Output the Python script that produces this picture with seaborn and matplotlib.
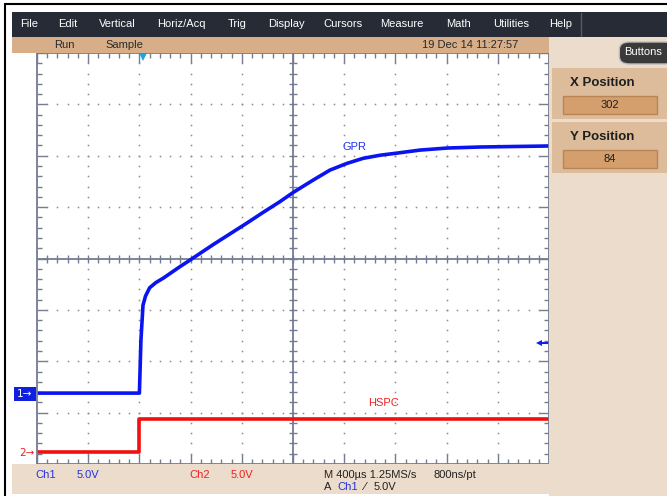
import numpy as np
import pandas as pd
import matplotlib
matplotlib.use("Agg")
import matplotlib.pyplot as plt
import seaborn as sns
from matplotlib.patches import Rectangle, FancyBboxPatch

# trace readings, in screen divisions (10 x 8 graticule)
gpr_t = [0.0, 2.0, 2.03, 2.07, 2.12, 2.20, 2.32, 2.47, 2.79, 2.99, 3.44, 3.77, 4.10,
         4.42, 4.75, 5.01, 5.40, 5.72, 6.05, 6.37, 6.70, 7.02, 7.48, 8.01, 8.65, 10.0]
gpr_v = [1.38, 1.38, 2.41, 3.09, 3.27, 3.43, 3.53, 3.62, 3.84, 3.97, 4.27, 4.48, 4.69,
         4.90, 5.11, 5.29, 5.53, 5.72, 5.85, 5.95, 6.01, 6.05, 6.11, 6.15, 6.17, 6.19]
hspc_t = [0.0, 2.0, 2.0, 10.0]
hspc_v = [0.24, 0.24, 0.87, 0.87]

menu_items = ["File", "Edit", "Vertical", "Horiz/Acq", "Trig", "Display",
              "Cursors", "Measure", "Math", "Utilities", "Help"]
menu_x = [29, 68, 117, 181, 237, 286, 343, 402, 459, 511, 561]

df = pd.concat([
    pd.DataFrame({"t": gpr_t, "v": gpr_v, "trace": "GPR"}),
    pd.DataFrame({"t": hspc_t, "v": hspc_v, "trace": "HSPC"}),
], ignore_index=True)

sns.set_theme(style="white")
plt.rcParams['font.family'] = ['Liberation Sans Narrow', 'Liberation Sans', 'DejaVu Sans']

W, H = 667, 496
fig = plt.figure(figsize=(W / 100, H / 100), dpi=100)
fig.patch.set_facecolor("white")


def box(x0, y0, x1, y1, **kw):
    fig.add_artist(Rectangle((x0 / W, 1 - y1 / H), (x1 - x0) / W, (y1 - y0) / H,
                             transform=fig.transFigure, **kw))


def txt(x, y, s, **kw):
    kw.setdefault("va", "center")
    kw.setdefault("ha", "center")
    fig.text(x / W, 1 - y / H, s, **kw)


# window chrome
box(12, 12, 667, 37, color="#262b35", lw=0)
box(12, 37, 549, 53, color="#d7ae87", lw=0)
box(549, 37, 667, 496, color="#ecdccb", lw=0)
box(12, 464, 549, 494, color="#ecdccb", lw=0)
fig.add_artist(plt.Line2D([5 / W, 5 / W], [0, 1 - 4 / H], transform=fig.transFigure, color="black", lw=1.5))
fig.add_artist(plt.Line2D([5 / W, 1], [1 - 4 / H, 1 - 4 / H], transform=fig.transFigure, color="black", lw=1.5))
fig.add_artist(plt.Line2D([581 / W, 581 / W], [1 - 13 / H, 1 - 36 / H], transform=fig.transFigure, color="#555a63", lw=1))

for name, x in zip(menu_items, menu_x):
    txt(x, 24, name, color="white", fontsize=8)

txt(64, 45, "Run", color="#2a2a2a", fontsize=8)
txt(124, 45, "Sample", color="#2a2a2a", fontsize=8)
txt(470, 45, "19 Dec 14 11:27:57", color="#2a2a2a", fontsize=8)

# right side panel
fig.add_artist(FancyBboxPatch((622 / W, 1 - 62 / H), 50 / W, 18 / H,
                              boxstyle="round,pad=0.004,rounding_size=0.015",
                              transform=fig.transFigure, fc="#3a3a3a", ec="#bbbbbb", lw=1))
txt(643, 52, "Buttons", color="white", fontsize=8)
for y0, label, val in [(68, "X Position", "302"), (122, "Y Position", "84")]:
    box(552, y0, 667, y0 + 51, color="#dcbc9b", lw=0)
    box(563, y0 + 28, 657, y0 + 46, fc="#d49f6c", ec="#b98556", lw=1)
    txt(602, y0 + 15, label, color="#1e1e1e", fontsize=9.5, fontweight="bold",
        family=["Liberation Sans", "DejaVu Sans"])
    txt(610, y0 + 37, val, color="#1e1e1e", fontsize=8)

# bottom readouts
txt(46, 475, "Ch1", color="#2233dd", fontsize=8)
txt(88, 475, "5.0V", color="#2233dd", fontsize=8)
txt(200, 475, "Ch2", color="#ee2222", fontsize=8)
txt(242, 475, "5.0V", color="#ee2222", fontsize=8)
txt(324, 475, "M 400µs 1.25MS/s", color="#222222", fontsize=8, ha="left")
txt(433, 475, "800ns/pt", color="#222222", fontsize=8, ha="left")
txt(324, 487, "A", color="#222222", fontsize=8, ha="left")
txt(337, 487, "Ch1", color="#2233dd", fontsize=8, ha="left")
txt(363, 487, "⁄", color="#222222", fontsize=8, ha="left", family=["DejaVu Sans"])
txt(374, 487, "5.0V", color="#222222", fontsize=8, ha="left")

# channel markers on the left
box(14, 387, 36, 401, color="#1020e0", lw=0)
txt(25, 394, "1→", color="white", fontsize=7.5, family=["DejaVu Sans"])
txt(27, 453, "2→", color="#ee2222", fontsize=7.5, family=["DejaVu Sans"])

# graticule
ax = fig.add_axes([37 / W, 1 - 464 / H, 512 / W, 411 / H])
ax.set_facecolor("white")
gcol = "#747c92"
ax.set_xlim(0, 10)
ax.set_ylim(0, 8)
ax.set_xticks(np.arange(0, 11, 1))
ax.set_yticks(np.arange(0, 9, 1))
ax.set_xticks(np.arange(0, 10.01, 0.2), minor=True)
ax.set_yticks(np.arange(0, 8.01, 0.2), minor=True)
ax.tick_params(which="both", direction="in", top=True, right=True, bottom=True, left=True,
               labelbottom=False, labelleft=False, color=gcol, width=1)
ax.tick_params(which="major", length=7)
ax.tick_params(which="minor", length=3.5)
for s in ax.spines.values():
    s.set_color(gcol)
    s.set_linewidth(1.3)

minor_x = np.arange(0.2, 10, 0.2)
minor_y = np.arange(0.2, 8, 0.2)
for gx in range(1, 10):
    if gx != 5:
        ax.plot(np.full(len(minor_y), gx), minor_y, ls="none", marker="s", ms=1.1, color="#8a8a8a", mew=0)
for gy in range(1, 8):
    if gy != 4:
        ax.plot(minor_x, np.full(len(minor_x), gy), ls="none", marker="s", ms=1.1, color="#8a8a8a", mew=0)
ax.axhline(4, color=gcol, lw=1.3)
ax.axvline(5, color=gcol, lw=1.3)
ax.plot(minor_x, np.full(len(minor_x), 4), ls="none", marker="|", ms=6, mew=1, color=gcol)
ax.plot(np.full(len(minor_y), 5), minor_y, ls="none", marker="_", ms=6, mew=1, color=gcol)

sns.lineplot(data=df, x="t", y="v", hue="trace", palette={"GPR": "#0a14f0", "HSPC": "#f01010"},
             estimator=None, sort=False, lw=2.6, legend=False, ax=ax)
ax.set_xlabel("")
ax.set_ylabel("")

ax.text(6.21, 6.17, "GPR", color="#2233ee", fontsize=8, ha="center", va="center")
ax.text(6.76, 1.19, "HSPC", color="#ee2222", fontsize=8, ha="center", va="center")
ax.plot([2.07], [7.93], marker="v", ms=6, color="#1aa6e6", mew=0, clip_on=False)
# channel 1 offset marker at right edge
ax.plot([9.8, 10.0], [2.35, 2.35], color="#1020e0", lw=1.5, clip_on=False)
ax.plot([9.8], [2.35], marker="<", ms=5, color="#1020e0", mew=0, clip_on=False)

fig.savefig("out.png", dpi=100)
